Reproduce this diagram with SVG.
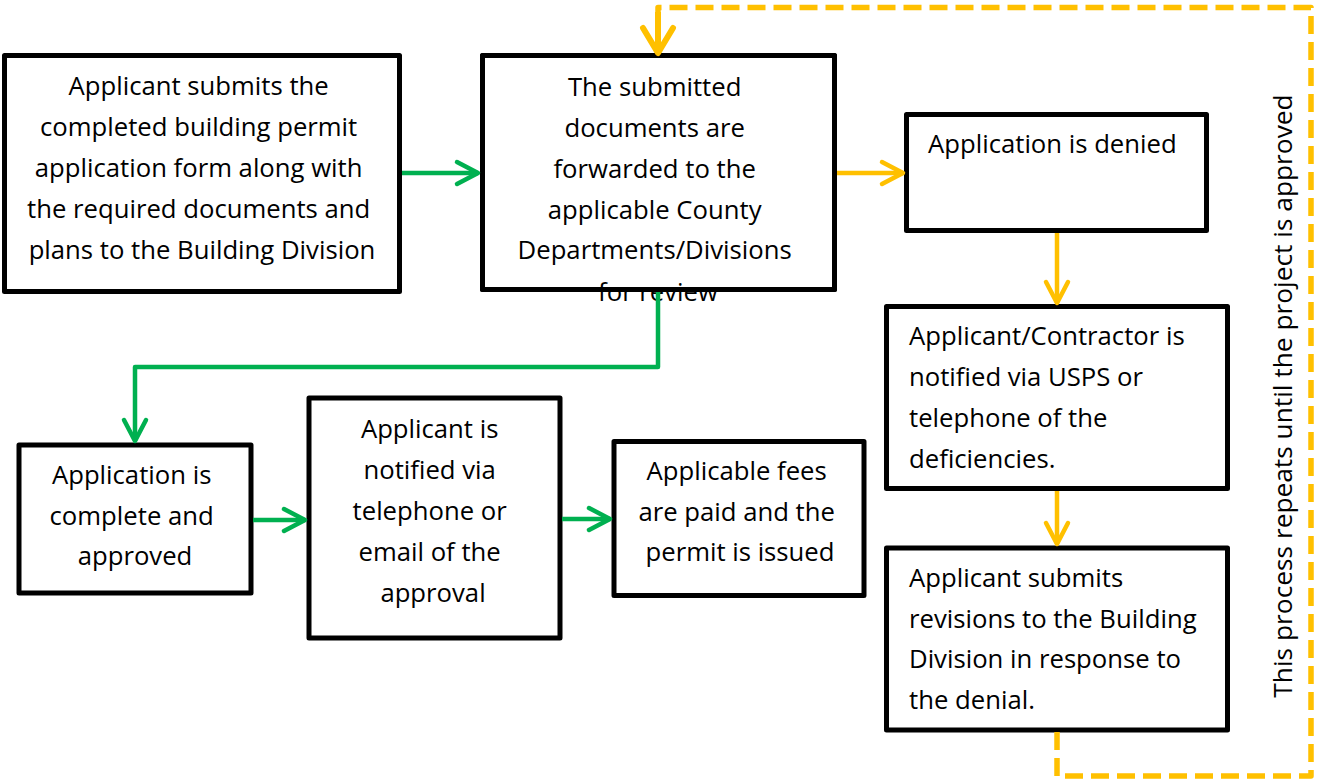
<svg xmlns="http://www.w3.org/2000/svg" width="1317" height="784" viewBox="0 0 1317 784">
  <defs>
    <style>
      .box{fill:#fff;stroke:#000;stroke-width:5;stroke-linejoin:round}
      .edge{fill:none;stroke:#000;stroke-width:5;stroke-linejoin:round}
      .t{font-family:"Open Sans","Liberation Sans",sans-serif;font-size:25.7px;fill:#000}
      .c{text-anchor:middle}
      .note{font-size:26.3px}
      .green{fill:none;stroke:#00B050;stroke-width:4.5;stroke-linejoin:round}
      .amber{fill:none;stroke:#FFC000;stroke-width:4.5;stroke-linejoin:round}
      .loop{fill:none;stroke:#FFC000;stroke-width:5.5;stroke-dasharray:18 8;stroke-linejoin:round}
      .loopstub{fill:none;stroke:#FFC000;stroke-width:6}
    </style>
    <marker id="head-green" markerUnits="userSpaceOnUse" viewBox="-30 -16 34 32" refX="0" refY="0" markerWidth="34" markerHeight="32" orient="auto">
      <path d="M-21,-11 L0,0 L-21,11" fill="none" stroke="#00B050" stroke-width="4.5" stroke-linecap="round" stroke-linejoin="round"/>
    </marker>
    <marker id="head-amber" markerUnits="userSpaceOnUse" viewBox="-30 -16 34 32" refX="0" refY="0" markerWidth="34" markerHeight="32" orient="auto">
      <path d="M-21,-11 L0,0 L-21,11" fill="none" stroke="#FFC000" stroke-width="4.5" stroke-linecap="round" stroke-linejoin="round"/>
    </marker>
    <marker id="head-loop" markerUnits="userSpaceOnUse" viewBox="-32 -20 36 40" refX="0" refY="0" markerWidth="36" markerHeight="40" orient="auto">
      <path d="M-25,-15 L0,0 L-25,15" fill="none" stroke="#FFC000" stroke-width="6" stroke-linecap="round" stroke-linejoin="round"/>
    </marker>
  </defs>

  <rect width="1317" height="784" fill="#fff"/>

  <!-- process boxes -->
  <g id="submit">
    <rect class="box" x="4.5" y="55.5" width="395" height="236"/>
    <text class="t c" x="202">
      <tspan x="202" y="95">Applicant submits the</tspan>
      <tspan x="202" y="136">completed building permit</tspan>
      <tspan x="202" y="177">application form along with</tspan>
      <tspan x="202" y="218">the required documents and</tspan>
      <tspan x="202" y="259">plans to the Building Division</tspan>
    </text>
  </g>

  <g id="forward">
    <rect class="box" x="482.5" y="55.5" width="352" height="234"/>
    <text class="t c" x="658">
      <tspan x="658" y="96">The submitted</tspan>
      <tspan x="658" y="137">documents are</tspan>
      <tspan x="658" y="178">forwarded to the</tspan>
      <tspan x="658" y="219">applicable County</tspan>
      <tspan x="658" y="259">Departments/Divisions</tspan>
      <tspan x="658" y="301">for review</tspan>
    </text>
    <rect class="edge" x="482.5" y="55.5" width="352" height="234"/>
  </g>

  <g id="denied">
    <rect class="box" x="906.5" y="114.5" width="300" height="116"/>
    <text class="t" x="928" y="153">Application is denied</text>
  </g>

  <g id="notify-deficiencies">
    <rect class="box" x="886.5" y="306.5" width="341" height="182"/>
    <text class="t">
      <tspan x="909" y="345">Applicant/Contractor is</tspan>
      <tspan x="909" y="386">notified via USPS or</tspan>
      <tspan x="909" y="427">telephone of the</tspan>
      <tspan x="909" y="468">deficiencies.</tspan>
    </text>
  </g>

  <g id="revisions">
    <rect class="box" x="886.5" y="548" width="341" height="182"/>
    <text class="t">
      <tspan x="909" y="587">Applicant submits</tspan>
      <tspan x="909" y="628">revisions to the Building</tspan>
      <tspan x="909" y="668">Division in response to</tspan>
      <tspan x="909" y="709">the denial.</tspan>
    </text>
  </g>

  <g id="approved">
    <rect class="box" x="19" y="445" width="232" height="148"/>
    <text class="t c">
      <tspan x="135" y="484">Application is</tspan>
      <tspan x="135" y="525">complete and</tspan>
      <tspan x="135" y="565">approved</tspan>
    </text>
  </g>

  <g id="notify-approval">
    <rect class="box" x="309" y="398" width="251" height="240"/>
    <text class="t c">
      <tspan x="433" y="438">Applicant is</tspan>
      <tspan x="433" y="479">notified via</tspan>
      <tspan x="433" y="520">telephone or</tspan>
      <tspan x="433" y="561">email of the</tspan>
      <tspan x="433" y="602">approval</tspan>
    </text>
  </g>

  <g id="issued">
    <rect class="box" x="614" y="441.5" width="250" height="154"/>
    <text class="t c">
      <tspan x="740" y="480">Applicable fees</tspan>
      <tspan x="740" y="521">are paid and the</tspan>
      <tspan x="740" y="561">permit is issued</tspan>
    </text>
  </g>

  <g id="loop-note">
    <text class="t c note" transform="translate(1292,396) rotate(-90)">This process repeats until the project is approved</text>
  </g>

  <!-- connectors -->
  <g id="connectors">
    <path class="green" d="M402,173 H478" marker-end="url(#head-green)"/>
    <path class="amber" d="M837,173 H903" marker-end="url(#head-amber)"/>
    <path class="amber" d="M1057,233 V303" marker-end="url(#head-amber)"/>
    <path class="amber" d="M1057,491 V544" marker-end="url(#head-amber)"/>
    <path class="green" d="M658,292 V367 H135 V441" marker-end="url(#head-green)"/>
    <path class="green" d="M253,520 H305" marker-end="url(#head-green)"/>
    <path class="green" d="M562,519 H610" marker-end="url(#head-green)"/>
    <path class="loop" d="M1057,732 V776 H1311 V7.5 H658 V14"/>
    <path class="loopstub" d="M658,12 V53" marker-end="url(#head-loop)"/>
  </g>
</svg>
